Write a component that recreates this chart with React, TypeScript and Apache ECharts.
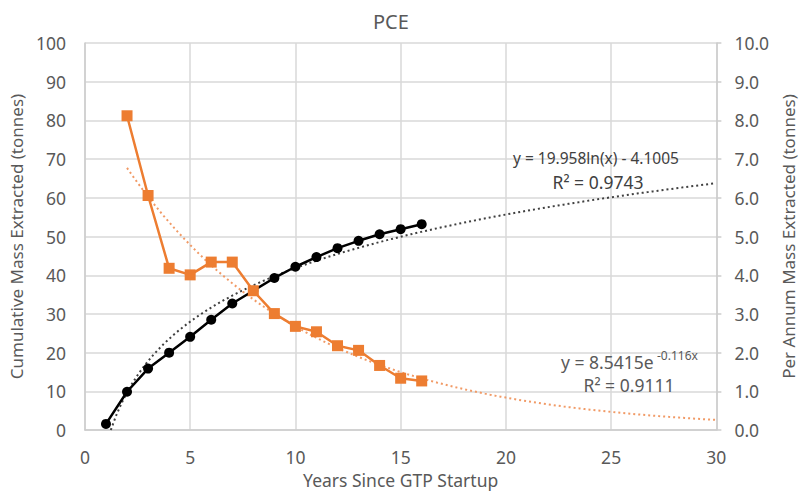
import React, { useEffect, useRef } from "react";
import * as echarts from "echarts";

const years: number[] = [1, 2, 3, 4, 5, 6, 7, 8, 9, 10, 11, 12, 13, 14, 15, 16];
const cumulativeMass: number[] = [1.6, 9.9, 15.9, 20.0, 24.1, 28.5, 32.7, 36.0, 39.3, 42.2, 44.7, 47.0, 48.9, 50.6, 51.9, 53.2];
const perAnnumYears: number[] = [2, 3, 4, 5, 6, 7, 8, 9, 10, 11, 12, 13, 14, 15, 16];
const perAnnumMass: number[] = [8.12, 6.06, 4.18, 4.01, 4.34, 4.34, 3.6, 3.01, 2.68, 2.54, 2.18, 2.06, 1.67, 1.34, 1.27];

// Trendline equations shown on the chart
const logA = 19.958;
const logB = 4.1005;
const expA = 8.5415;
const expK = -0.116;
const logStart = 1.23;
const expStart = 2;
const trendEnd = 30;

const xTicks = [0, 5, 10, 15, 20, 25, 30];

function buildLogTrend(): number[][] {
  const pts: number[][] = [];
  for (let x = logStart; x <= trendEnd + 1e-9; x += 0.25) {
    pts.push([x, logA * Math.log(x) - logB]);
  }
  return pts;
}
function buildExpTrend(): number[][] {
  const pts: number[][] = [];
  for (let x = expStart; x <= trendEnd + 1e-9; x += 0.25) {
    pts.push([x, expA * Math.exp(expK * x)]);
  }
  return pts;
}

const FONT = "'Noto Sans', 'Open Sans', sans-serif";
const TXT = "#595959";
const GRID = "#d9d9d9";
const AXIS = "#cccccc";

function label(text: string, x: number, y: number, size: number, color: string, align = "center") {
  return {
    type: "text",
    x,
    y,
    z: 10,
    style: {
      text,
      fontSize: size,
      fontFamily: FONT,
      fill: color,
      align,
      textAlign: align,
      verticalAlign: "middle",
      textVerticalAlign: "middle",
    },
  };
}

export default function App() {
  const ref = useRef<HTMLDivElement>(null);
  useEffect(() => {
    document.body.style.margin = "0";
    document.body.style.overflow = "hidden";
    if (!ref.current) return;
    const chart = echarts.init(ref.current, undefined, { renderer: "svg", width: 805, height: 494 });
    chart.setOption({
      animation: false,
      backgroundColor: "#ffffff",
      title: {
        text: "PCE",
        left: 368,
        top: 6,
        textStyle: { fontFamily: FONT, fontSize: 20, fontWeight: "normal", color: TXT },
      },
      grid: { left: 84, right: 73, top: 43, bottom: 62 },
      xAxis: {
        type: "value",
        min: xTicks[0],
        max: xTicks[xTicks.length - 1],
        interval: 5,
        name: "Years Since GTP Startup",
        nameLocation: "middle",
        nameGap: 40,
        nameTextStyle: { fontFamily: FONT, fontSize: 17.5, color: TXT },
        axisLine: { show: true, lineStyle: { color: AXIS, width: 1.5 } },
        axisTick: { show: false },
        axisLabel: { fontFamily: FONT, fontSize: 17.5, color: TXT, margin: 18 },
        splitLine: { show: true, lineStyle: { color: GRID, width: 1.5 } },
      },
      yAxis: [
        {
          type: "value",
          min: 0,
          max: 100,
          interval: 10,
          position: "left",
          name: "Cumulative Mass Extracted (tonnes)",
          nameLocation: "middle",
          nameGap: 57,
          nameTextStyle: { fontFamily: FONT, fontSize: 17, color: TXT },
          axisLine: { show: true, lineStyle: { color: AXIS, width: 1.5 } },
          axisTick: { show: false },
          axisLabel: { fontFamily: FONT, fontSize: 17.5, color: TXT, margin: 19 },
          splitLine: { show: true, lineStyle: { color: GRID, width: 1.5 } },
        },
        {
          type: "value",
          min: 0,
          max: 10,
          interval: 1,
          position: "right",
          name: "Per Annum Mass Extracted (tonnes)",
          nameLocation: "middle",
          nameGap: 52,
          nameRotate: 90,
          nameTextStyle: { fontFamily: FONT, fontSize: 17, color: TXT },
          axisLine: { show: true, lineStyle: { color: AXIS, width: 1.5 } },
          axisTick: { show: true, length: 5, lineStyle: { color: AXIS, width: 1.5 } },
          axisLabel: {
            fontFamily: FONT,
            fontSize: 17.5,
            color: TXT,
            margin: 18,
            formatter: (v: number) => v.toFixed(1),
          },
          splitLine: { show: false },
        },
      ],
      series: [
        {
          name: "Log trend",
          type: "line",
          yAxisIndex: 0,
          data: buildLogTrend(),
          showSymbol: false,
          symbol: "none",
          lineStyle: { color: "#404040", width: 2, type: [2, 3] },
          z: 3,
        },
        {
          name: "Exp trend",
          type: "line",
          yAxisIndex: 1,
          data: buildExpTrend(),
          showSymbol: false,
          symbol: "none",
          lineStyle: { color: "#f19a66", width: 2, type: [2, 3] },
          z: 3,
        },
        {
          name: "Cumulative",
          type: "line",
          yAxisIndex: 0,
          data: years.map((x, i) => [x, cumulativeMass[i]]),
          symbol: "circle",
          symbolSize: 10,
          itemStyle: { color: "#000000" },
          lineStyle: { color: "#000000", width: 2.5 },
          z: 4,
        },
        {
          name: "Per annum",
          type: "line",
          yAxisIndex: 1,
          data: perAnnumYears.map((x, i) => [x, perAnnumMass[i]]),
          symbol: "rect",
          symbolSize: 11,
          itemStyle: { color: "#ED7D31" },
          lineStyle: { color: "#ED7D31", width: 2.5 },
          z: 5,
        },
      ],
      graphic: [
        label("y = 19.958ln(x) - 4.1005", 596, 158, 15.5, "#404040"),
        label("R² = 0.9743", 598, 182, 17.5, "#404040"),
        label("y = 8.5415e", 561, 362, 17.5, TXT, "left"),
        label("-0.116x", 657, 355, 12, TXT, "left"),
        label("R² = 0.9111", 629, 385, 17.5, TXT),
      ],
    });
    return () => chart.dispose();
  }, []);
  return (
    <div
      ref={ref}
      style={{ position: "absolute", left: 0, top: 0, width: 805, height: 494, overflow: "hidden" }}
    />
  );
}
